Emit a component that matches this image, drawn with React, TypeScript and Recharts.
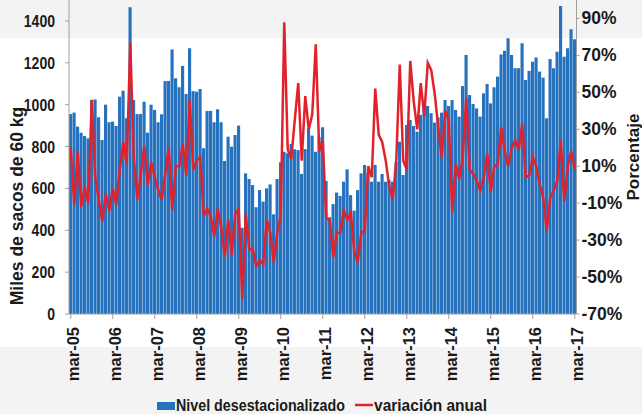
import React from 'react';
import { ComposedChart, Bar, Line, XAxis, YAxis, Legend } from 'recharts';

const MONTHS = ['ene', 'feb', 'mar', 'abr', 'may', 'jun', 'jul', 'ago', 'sep', 'oct', 'nov', 'dic'];
const FIRST_YEAR = 2005;
const FIRST_MONTH = 2; // mar
const LEFT_TICKS = [0, 200, 400, 600, 800, 1000, 1200, 1400];
const RIGHT_TICKS = [-70, -50, -30, -10, 10, 30, 50, 70, 90];

// Nivel desestacionalizado (miles de sacos de 60 kg), mar-05 .. mar-17
const nivelA = [955, 962, 895, 866, 850, 839, 1022, 1025, 940, 831, 1000, 916,
  919, 898, 1038, 1067, 935, 1465, 1022, 955, 955, 1014, 866, 1000,
  975, 916, 954, 1113, 1113, 1264, 1126, 1083, 1185, 1051, 1269, 1065];
const nivelB = [1062, 1075, 792, 970, 970, 916, 978, 916, 731, 847, 799, 855,
  900, 412, 672, 645, 616, 510, 592, 537, 600, 619, 476, 645,
  725, 775, 768, 812, 787, 783, 669, 788, 887, 852, 775, 845];
const nivelC = [892, 635, 462, 525, 580, 564, 632, 691, 568, 494, 592, 672,
  712, 672, 632, 712, 632, 669, 632, 640, 632, 725, 823, 664,
  903, 927, 898, 871, 951, 1019, 994, 959, 914, 939, 962, 1022];
const nivelD = [994, 1022, 975, 943, 1089, 1237, 1046, 1003, 982, 943, 1054, 1099,
  1006, 1083, 1134, 1240, 1258, 1317, 1237, 1174, 1174, 1293, 1118, 1161,
  1205, 1225, 1158, 1129, 935, 1218, 1174, 1253, 1471, 1229, 1269, 1360, 1312];

// Variación anual (%)
const variacionA = [20, -11, 18, -12, -1, -10, 46, 4, -8, -20, -5, -14,
  -2, -11, 8, 23, 11, 77, 15, -8, 5, 21, 0, 12,
  4, -3, -8, 6, 20, -14, 10, 10, 22, 5, 46, 8];
const variacionB = [13, 15, -17, -13, -17, -28, -13, -23, -39, -19, -38, -16,
  -13, -62, -16, -35, -35, -44, -41, -43, -19, -26, -42, -26,
  -17, 88, 19, 14, 35, 55, 13, 48, 30, 38, 76, 18];
const variacionC = [24, -18, -19, -39, -26, -26, -14, -19, -15, -36, -42, -26,
  -25, 10, 4, 52, 27, 23, 13, -1, -8, 13, 65, 13,
  8, 67, 45, 30, 55, 37, 66, 62, 49, 31, 15, 40];
const variacionD = [35, -15, 11, 3, 15, 47, 8, 6, 2, -3, 4, 17,
  -4, 10, 11, 31, 18, 10, 20, 24, 19, 33, 4, 5,
  15, 10, 0, -7, -25, -7, -3, 2, 24, -9, 10, 18, 8];

const nivel = [...nivelA, ...nivelB, ...nivelC, ...nivelD];
const variacion = [...variacionA, ...variacionB, ...variacionC, ...variacionD];

const labels = nivel.map((_, i) => {
  const m = (FIRST_MONTH + i) % 12;
  const y = FIRST_YEAR + Math.floor((FIRST_MONTH + i) / 12);
  return `${MONTHS[m]}-${String(y).slice(2)}`;
});

const data = labels.map((label, i) => ({ label, nivel: nivel[i], variacion: variacion[i] }));

const BLUE = '#2672be';
const RED = '#e1222c';
const TEXT = '#1a1a1a';
const AXIS = '#a0a0a0';
const FONT = "'Liberation Sans', Arial, 'DejaVu Sans', sans-serif";

const XTick = (props: any) => {
  const { x, y, payload } = props;
  const cx = x + 2;
  return (
    <text x={cx} y={y} transform={`rotate(-90 ${cx} ${y})`} textAnchor="end" dominantBaseline="central"
      fontFamily={FONT} fontSize={16.5} fontWeight="bold" fill={TEXT}>
      {payload.value}
    </text>
  );
};

const LeftTick = (props: any) => {
  const { x, y, payload } = props;
  const s = String(payload.value);
  return (
    <text x={x} y={y} textAnchor="end" dominantBaseline="central" fontFamily={FONT} fontSize={16.5}
      fontWeight="bold" fill={TEXT} textLength={s.length * 7.8} lengthAdjust="spacingAndGlyphs">
      {s}
    </text>
  );
};

const RightTick = (props: any) => {
  const { x, y, payload } = props;
  return (
    <text x={x} y={y} textAnchor="start" dominantBaseline="central" fontFamily={FONT} fontSize={17.5}
      fontWeight="bold" fill={TEXT}>
      {`${payload.value}%`}
    </text>
  );
};

const LegendContent = () => (
  <svg width={642} height={20} style={{ display: 'block' }}>
    <rect x={157} y={8} width={18} height={8} fill={BLUE} />
    <text x={176} y={11} dominantBaseline="central" fontFamily={FONT} fontSize={16.5} fontWeight="bold" fill={TEXT}
      textLength={169} lengthAdjust="spacingAndGlyphs">
      Nivel desestacionalizado
    </text>
    <line x1={355} y1={11} x2={373} y2={11} stroke={RED} strokeWidth={2.5} />
    <text x={374} y={11} dominantBaseline="central" fontFamily={FONT} fontSize={16.5} fontWeight="bold" fill={TEXT}
      textLength={113} lengthAdjust="spacingAndGlyphs">
      variación anual
    </text>
  </svg>
);

const LeftTitle = () => (
  <text x={17} y={206} transform="rotate(-90 17 206)" textAnchor="middle" dominantBaseline="central"
    fontFamily={FONT} fontSize={17.5} fontWeight="bold" fill={TEXT}>
    Miles de sacos de 60 kg
  </text>
);

const RightTitle = () => (
  <text x={633} y={157} transform="rotate(-90 633 157)" textAnchor="middle" dominantBaseline="central"
    fontFamily={FONT} fontSize={17} fontWeight="bold" fill={TEXT}>
    Porcentaje
  </text>
);

export default function App() {
  return (
    <div style={{ position: 'absolute', left: 0, top: 0, width: 642, height: 414, background: '#f3f3f3' }}>
      <div style={{ position: 'absolute', left: 0, top: 38, width: 642, height: 309, background: '#ffffff' }} />
      <div style={{ position: 'absolute', left: 0, top: 0 }}>
        <ComposedChart width={642} height={414} data={data} margin={{ top: 0, right: 0, bottom: 0, left: 0 }}
          barCategoryGap={0} barGap={0}>
          <XAxis dataKey="label" interval={11} height={100} tick={<XTick />} tickSize={5} tickMargin={8}
            axisLine={{ stroke: AXIS }} tickLine={{ stroke: AXIS }} />
          <YAxis yAxisId="left" domain={[0, 1500]} ticks={LEFT_TICKS} width={69} tickSize={4} tickMargin={10}
            axisLine={{ stroke: AXIS }} tickLine={{ stroke: AXIS }} tick={<LeftTick />}
            label={() => <LeftTitle />} />
          <YAxis yAxisId="right" orientation="right" domain={[-70, 100]} ticks={RIGHT_TICKS} width={65.5}
            tickSize={3} tickMargin={2}
            axisLine={{ stroke: AXIS }} tickLine={{ stroke: AXIS }} tick={<RightTick />}
            label={() => <RightTitle />} />
          <Legend verticalAlign="middle" align="center" layout="horizontal" content={() => <LegendContent />}
            wrapperStyle={{ position: 'absolute', top: 394, left: 0, width: 642, height: 20 }} />
          <Bar yAxisId="left" dataKey="nivel" name="Nivel desestacionalizado" fill={BLUE} barSize={3.5}
            isAnimationActive={false} />
          <Line yAxisId="right" dataKey="variacion" name="variación anual" type="linear" stroke={RED}
            strokeWidth={2.5} dot={false} activeDot={false} isAnimationActive={false} />
        </ComposedChart>
      </div>
    </div>
  );
}
